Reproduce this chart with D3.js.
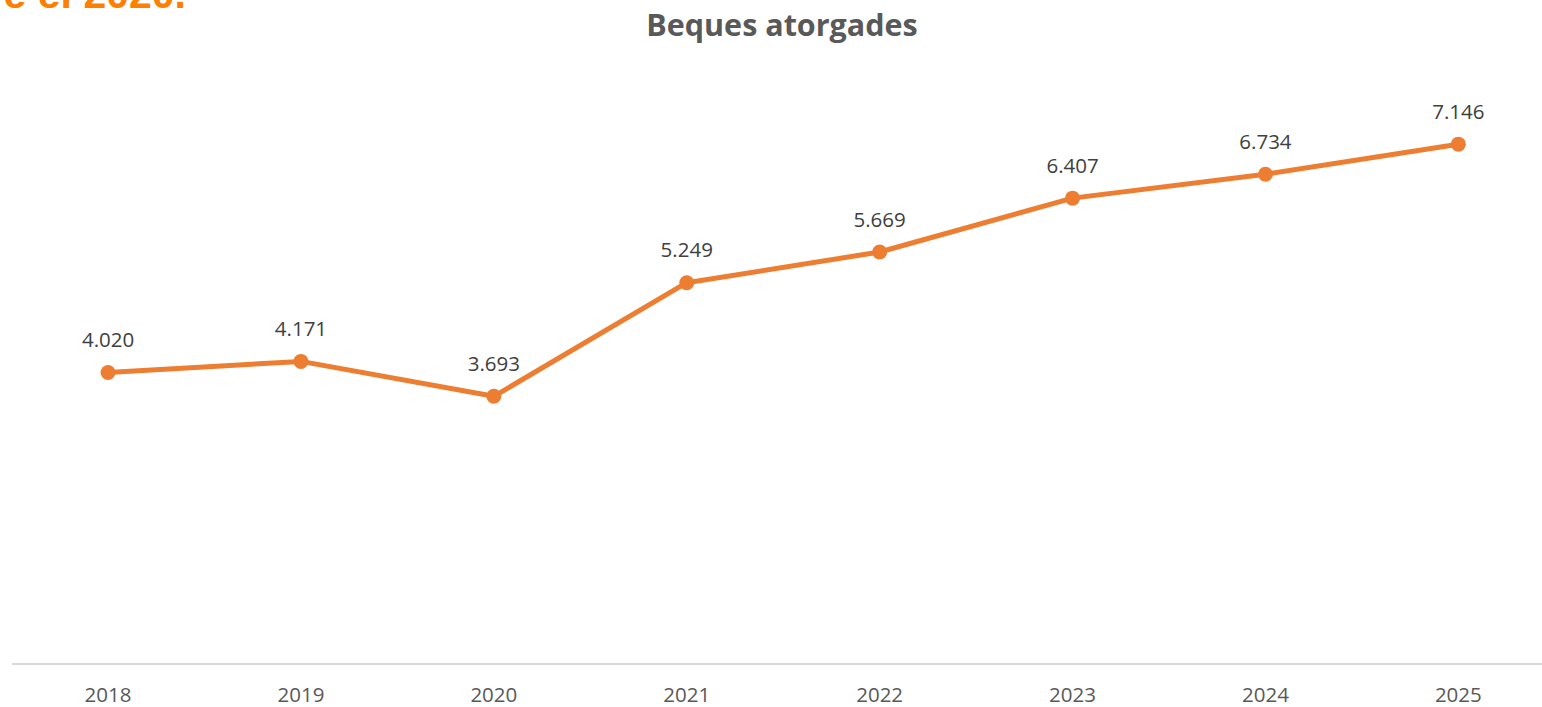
<!DOCTYPE html>
<html>
<head>
<meta charset="utf-8">
<script src="https://cdn.jsdelivr.net/npm/d3@7"></script>
<style>
  body { margin: 0; background: #fff; }
  svg { display: block; }
</style>
</head>
<body>
<svg id="chart" width="1542" height="707"></svg>
<script>
var years = ["2018", "2019", "2020", "2021", "2022", "2023", "2024", "2025"];
var beques = [4020, 4171, 3693, 5249, 5669, 6407, 6734, 7146];
var labels = ["4.020", "4.171", "3.693", "5.249", "5.669", "6.407", "6.734", "7.146"];

var data = years.map(function(y, i) { return {year: y, value: beques[i], label: labels[i]}; });

var svg = d3.select("#chart");
var W = 1542, H = 707;

// x: categories, plot runs a bit past the right edge
var x = d3.scaleBand()
  .domain(years)
  .range([11.6, 1554.8]);

var y = d3.scaleLinear()
  .domain([0, 8000])
  .range([666, 81.8]);

// cut-off heading left over from the page above
svg.append("text")
  .attr("x", 186).attr("y", 8)
  .attr("text-anchor", "end")
  .style("font", "bold 41px 'Liberation Sans', Arial, sans-serif")
  .style("fill", "#FF7F00")
  .text("e el 2020.");

// title
svg.append("text")
  .attr("x", 782).attr("y", 36)
  .attr("text-anchor", "middle")
  .style("font", "bold 30.5px 'Open Sans', sans-serif")
  .style("fill", "#595959")
  .text("Beques atorgades");

// axis line
svg.append("line")
  .attr("x1", 12).attr("x2", W)
  .attr("y1", 664).attr("y2", 664)
  .style("stroke", "#d9d9d9")
  .style("stroke-width", 2);

// year labels
svg.selectAll(".year")
  .data(years).enter().append("text")
  .attr("class", "year")
  .attr("x", function(d) { return x(d) + x.bandwidth() / 2; })
  .attr("y", 702)
  .attr("text-anchor", "middle")
  .style("font", "20.5px 'Open Sans', sans-serif")
  .style("fill", "#595959")
  .text(function(d) { return d; });

var cx = function(d) { return x(d.year) + x.bandwidth() / 2; };

var line = d3.line()
  .x(cx)
  .y(function(d) { return y(d.value); });

svg.append("path")
  .datum(data)
  .attr("d", line)
  .style("fill", "none")
  .style("stroke", "#ED7D31")
  .style("stroke-width", 5)
  .style("stroke-linejoin", "round");

svg.selectAll(".dot")
  .data(data).enter().append("circle")
  .attr("class", "dot")
  .attr("cx", cx)
  .attr("cy", function(d) { return y(d.value); })
  .attr("r", 7.5)
  .style("fill", "#ED7D31");

svg.selectAll(".lbl")
  .data(data).enter().append("text")
  .attr("class", "lbl")
  .attr("x", cx)
  .attr("y", function(d) { return y(d.value) - 25.5; })
  .attr("text-anchor", "middle")
  .style("font", "20.5px 'Open Sans', sans-serif")
  .style("fill", "#404040")
  .text(function(d) { return d.label; });
</script>
</body>
</html>
